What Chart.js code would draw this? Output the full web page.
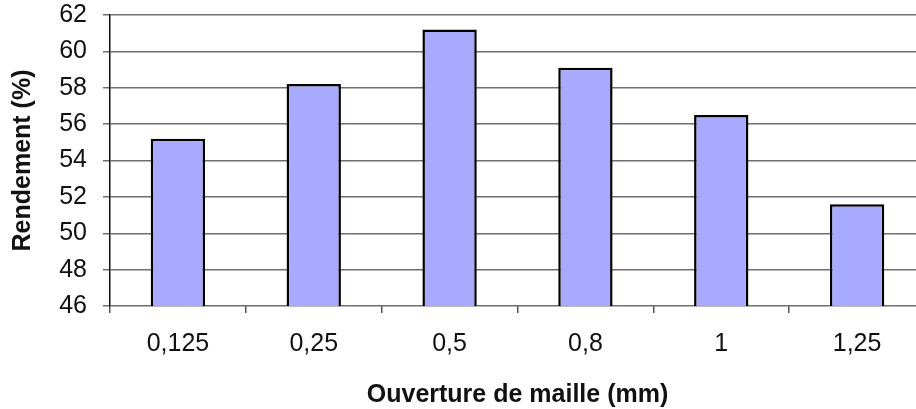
<!DOCTYPE html>
<html>
<head>
<meta charset="utf-8">
<script src="https://cdn.jsdelivr.net/npm/chart.js@4/dist/chart.umd.min.js"></script>
<style>
  html, body { margin: 0; padding: 0; background: #fff; overflow: hidden; }
  #wrap { width: 916px; height: 409px; overflow: hidden; }
</style>
</head>
<body>
<div id="wrap"><canvas id="chart" width="940" height="409"></canvas></div>
<script>
// Data
const categories = ['0,125', '0,25', '0,5', '0,8', '1', '1,25'];
const rendement = [55.2, 58.2, 61.2, 59.1, 56.5, 51.6];
const yMin = 46;
const yMax = 62;
const yStep = 2;

const FONT = 'Liberation Sans, Arial, sans-serif';

const ctx = document.getElementById('chart').getContext('2d');
new Chart(ctx, {
  type: 'bar',
  data: {
    labels: categories,
    datasets: [{
      label: 'Rendement',
      data: rendement,
      backgroundColor: '#a8aaff',
      borderColor: '#000',
      borderWidth: 2.5,
      borderSkipped: false,
      categoryPercentage: 1,
      barPercentage: 0.4,
    }],
  },
  options: {
    responsive: false,
    animation: false,
    layout: { padding: { top: 0, right: 15, bottom: 0, left: 0 } },
    plugins: {
      legend: { display: false },
      tooltip: { enabled: false },
    },
    scales: {
      x: {
        offset: true,
        grid: {
          offset: true,
          drawOnChartArea: false,
          drawTicks: true,
          tickLength: 7,
          color: '#555',
          lineWidth: 1.5,
        },
        border: { display: false },
        ticks: {
          color: '#111',
          padding: 16,
          font: { family: FONT, size: 25 },
          maxRotation: 0,
        },
        title: {
          display: true,
          text: 'Ouverture de maille (mm)',
          color: '#111',
          font: { family: FONT, size: 25, weight: 'bold', lineHeight: 1 },
          padding: { top: 0, bottom: 1.5 },
        },
        afterFit: (s) => { s.height = 103; },
      },
      y: {
        min: yMin,
        max: yMax,
        grid: {
          color: '#6f6f6f',
          lineWidth: 1.5,
          tickLength: 7,
        },
        border: { display: true, color: '#111', width: 1.5 },
        ticks: {
          stepSize: yStep,
          color: '#111',
          padding: 16,
          font: { family: FONT, size: 25 },
        },
        title: {
          display: true,
          text: 'Rendement (%)',
          color: '#111',
          font: { family: FONT, size: 25, weight: 'bold', lineHeight: 1 },
          padding: { top: 10.5, bottom: 0 },
        },
        afterFit: (s) => {
          s.width = 110;
          s.paddingTop = 15;
          s.paddingBottom = 0;
        },
      },
    },
  },
});
</script>
</body>
</html>
